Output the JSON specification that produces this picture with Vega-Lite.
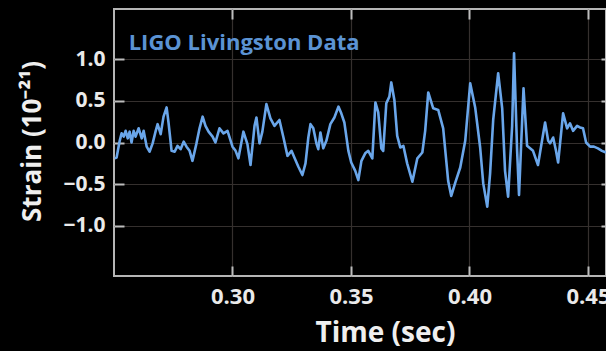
{
  "$schema": "https://vega.github.io/schema/vega-lite/v6.json",
  "width": 492,
  "height": 267,
  "autosize": {"type": "none"},
  "padding": {"left": 114, "top": 9, "right": 0, "bottom": 75},
  "background": "#000000",
  "config": {
    "view": {"stroke": "#b5b5b5", "strokeWidth": 2},
    "axis": {
      "labelFont": "Open Sans",
      "labelFontWeight": "bold",
      "labelColor": "#eaeaea",
      "titleFont": "Open Sans",
      "titleFontWeight": "bold",
      "titleColor": "#efefef",
      "domain": false,
      "tickColor": "#bdbdbd",
      "tickWidth": 2,
      "tickSize": -10,
      "gridColor": "#35302e",
      "gridWidth": 1.2
    }
  },
  "datasets": {
    "strain": [
      {"t": 0.2503, "v": -0.19}, {"t": 0.2511, "v": -0.18}, {"t": 0.2524, "v": 0.02}, {"t": 0.2532, "v": 0.11},
      {"t": 0.2541, "v": 0.07}, {"t": 0.2549, "v": 0.14}, {"t": 0.2558, "v": 0.05}, {"t": 0.2566, "v": 0.13},
      {"t": 0.2574, "v": 0.0}, {"t": 0.2583, "v": 0.14}, {"t": 0.2591, "v": 0.07}, {"t": 0.2604, "v": 0.17},
      {"t": 0.2617, "v": 0.05}, {"t": 0.2625, "v": 0.14}, {"t": 0.2638, "v": -0.05}, {"t": 0.2650, "v": -0.11},
      {"t": 0.2663, "v": -0.01}, {"t": 0.2676, "v": 0.14}, {"t": 0.2684, "v": 0.22}, {"t": 0.2697, "v": 0.10},
      {"t": 0.2709, "v": 0.31}, {"t": 0.2722, "v": 0.42}, {"t": 0.2730, "v": 0.24}, {"t": 0.2743, "v": -0.10},
      {"t": 0.2756, "v": -0.11}, {"t": 0.2768, "v": -0.04}, {"t": 0.2781, "v": -0.08}, {"t": 0.2794, "v": 0.01},
      {"t": 0.2806, "v": -0.05}, {"t": 0.2819, "v": -0.10}, {"t": 0.2831, "v": -0.22}, {"t": 0.2848, "v": -0.01},
      {"t": 0.2861, "v": 0.17}, {"t": 0.2874, "v": 0.31}, {"t": 0.2886, "v": 0.20}, {"t": 0.2899, "v": 0.13},
      {"t": 0.2916, "v": 0.07}, {"t": 0.2928, "v": 0.00}, {"t": 0.2945, "v": 0.17}, {"t": 0.2962, "v": 0.11},
      {"t": 0.2979, "v": 0.14}, {"t": 0.3000, "v": -0.05}, {"t": 0.3013, "v": -0.10}, {"t": 0.3025, "v": -0.19},
      {"t": 0.3046, "v": 0.13}, {"t": 0.3063, "v": -0.02}, {"t": 0.3076, "v": -0.27}, {"t": 0.3093, "v": 0.20},
      {"t": 0.3101, "v": 0.30}, {"t": 0.3114, "v": -0.01}, {"t": 0.3126, "v": 0.13}, {"t": 0.3143, "v": 0.46},
      {"t": 0.3160, "v": 0.29}, {"t": 0.3177, "v": 0.20}, {"t": 0.3198, "v": 0.27}, {"t": 0.3215, "v": 0.06},
      {"t": 0.3232, "v": -0.16}, {"t": 0.3249, "v": -0.10}, {"t": 0.3261, "v": -0.18}, {"t": 0.3278, "v": -0.29},
      {"t": 0.3295, "v": -0.39}, {"t": 0.3308, "v": -0.25}, {"t": 0.3320, "v": 0.06}, {"t": 0.3329, "v": 0.22},
      {"t": 0.3341, "v": 0.17}, {"t": 0.3354, "v": -0.01}, {"t": 0.3362, "v": -0.08}, {"t": 0.3371, "v": 0.12},
      {"t": 0.3383, "v": -0.07}, {"t": 0.3396, "v": 0.02}, {"t": 0.3413, "v": 0.22}, {"t": 0.3430, "v": 0.30},
      {"t": 0.3447, "v": 0.43}, {"t": 0.3459, "v": 0.35}, {"t": 0.3472, "v": 0.24}, {"t": 0.3489, "v": -0.10},
      {"t": 0.3501, "v": -0.24}, {"t": 0.3518, "v": -0.34}, {"t": 0.3531, "v": -0.45}, {"t": 0.3544, "v": -0.22},
      {"t": 0.3560, "v": -0.13}, {"t": 0.3573, "v": -0.10}, {"t": 0.3590, "v": -0.19}, {"t": 0.3603, "v": 0.48},
      {"t": 0.3615, "v": 0.36}, {"t": 0.3628, "v": -0.07}, {"t": 0.3636, "v": -0.10}, {"t": 0.3649, "v": 0.47},
      {"t": 0.3662, "v": 0.55}, {"t": 0.3670, "v": 0.72}, {"t": 0.3683, "v": 0.51}, {"t": 0.3695, "v": 0.08},
      {"t": 0.3708, "v": -0.06}, {"t": 0.3721, "v": -0.04}, {"t": 0.3737, "v": -0.25}, {"t": 0.3759, "v": -0.47},
      {"t": 0.3780, "v": -0.19}, {"t": 0.3801, "v": -0.12}, {"t": 0.3813, "v": 0.14}, {"t": 0.3826, "v": 0.60},
      {"t": 0.3847, "v": 0.41}, {"t": 0.3868, "v": 0.39}, {"t": 0.3889, "v": 0.17}, {"t": 0.3902, "v": -0.22},
      {"t": 0.3910, "v": -0.46}, {"t": 0.3923, "v": -0.64}, {"t": 0.3940, "v": -0.48}, {"t": 0.3961, "v": -0.30},
      {"t": 0.3982, "v": 0.02}, {"t": 0.4003, "v": 0.71}, {"t": 0.4024, "v": 0.42}, {"t": 0.4045, "v": -0.06},
      {"t": 0.4058, "v": -0.49}, {"t": 0.4075, "v": -0.77}, {"t": 0.4087, "v": -0.37}, {"t": 0.4100, "v": 0.27},
      {"t": 0.4121, "v": 0.83}, {"t": 0.4138, "v": 0.41}, {"t": 0.4150, "v": -0.34}, {"t": 0.4163, "v": -0.65},
      {"t": 0.4180, "v": 0.20}, {"t": 0.4188, "v": 1.07}, {"t": 0.4201, "v": -0.10}, {"t": 0.4209, "v": -0.63},
      {"t": 0.4228, "v": 0.65}, {"t": 0.4243, "v": -0.04}, {"t": 0.4268, "v": -0.10}, {"t": 0.4289, "v": -0.27},
      {"t": 0.4306, "v": 0.02}, {"t": 0.4319, "v": 0.24}, {"t": 0.4332, "v": 0.02}, {"t": 0.4340, "v": -0.01},
      {"t": 0.4353, "v": 0.06}, {"t": 0.4365, "v": -0.10}, {"t": 0.4374, "v": -0.24}, {"t": 0.4395, "v": 0.35},
      {"t": 0.4412, "v": 0.17}, {"t": 0.4424, "v": 0.23}, {"t": 0.4437, "v": 0.14}, {"t": 0.4454, "v": 0.20},
      {"t": 0.4466, "v": 0.18}, {"t": 0.4479, "v": 0.17}, {"t": 0.4492, "v": 0.00}, {"t": 0.4509, "v": -0.05},
      {"t": 0.4525, "v": -0.05}, {"t": 0.4542, "v": -0.07}, {"t": 0.4559, "v": -0.10}, {"t": 0.4576, "v": -0.12}
    ]
  },
  "resolve": {"axis": {"x": "independent", "y": "independent"}},
  "layer": [
    {
      "data": {"name": "strain"},
      "mark": {"type": "line", "color": "#6aa6ea", "strokeWidth": 2.6, "clip": true, "strokeJoin": "round"},
      "encoding": {
        "x": {
          "field": "t", "type": "quantitative",
          "scale": {"domain": [0.25, 0.4576], "nice": false, "zero": false},
          "axis": {
            "orient": "bottom", "values": [0.3, 0.35, 0.4, 0.45], "format": ".2f",
            "labelFontSize": 22, "labelPadding": 20,
            "title": "Time (sec)", "titleFontSize": 28,
            "titleX": 271, "titleY": 65, "titleBaseline": "alphabetic", "titleAnchor": "middle"
          }
        },
        "y": {
          "field": "v", "type": "quantitative",
          "scale": {"domain": [-1.6, 1.6], "nice": false, "zero": false},
          "axis": {
            "orient": "left", "values": [-1, -0.5, 0, 0.5, 1], "format": ".1f",
            "labelFontSize": 21, "labelPadding": 19,
            "title": "Strain (10⁻²¹)", "titleFontSize": 26,
            "titleX": -74, "titleY": 132, "titleBaseline": "alphabetic", "titleAngle": -90, "titleAlign": "center"
          }
        }
      }
    },
    {
      "data": {"name": "strain"},
      "mark": {"type": "line", "opacity": 0},
      "encoding": {
        "x": {
          "field": "t", "type": "quantitative",
          "axis": {"orient": "top", "values": [0.3, 0.35, 0.4, 0.45], "labels": false, "title": null, "grid": false}
        },
        "y": {
          "field": "v", "type": "quantitative",
          "axis": {"orient": "right", "values": [-1, -0.5, 0, 0.5, 1], "labels": false, "title": null, "grid": false, "tickSize": -5}
        }
      }
    },
    {
      "data": {"values": [{"t": 0.2562, "v": 1.108, "label": "LIGO Livingston Data"}]},
      "mark": {"type": "text", "align": "left", "baseline": "alphabetic", "font": "Open Sans", "fontWeight": "bold", "fontSize": 22, "color": "#5b93d3"},
      "encoding": {
        "x": {"field": "t", "type": "quantitative", "axis": null},
        "y": {"field": "v", "type": "quantitative", "axis": null},
        "text": {"field": "label", "type": "nominal"}
      }
    }
  ]
}
